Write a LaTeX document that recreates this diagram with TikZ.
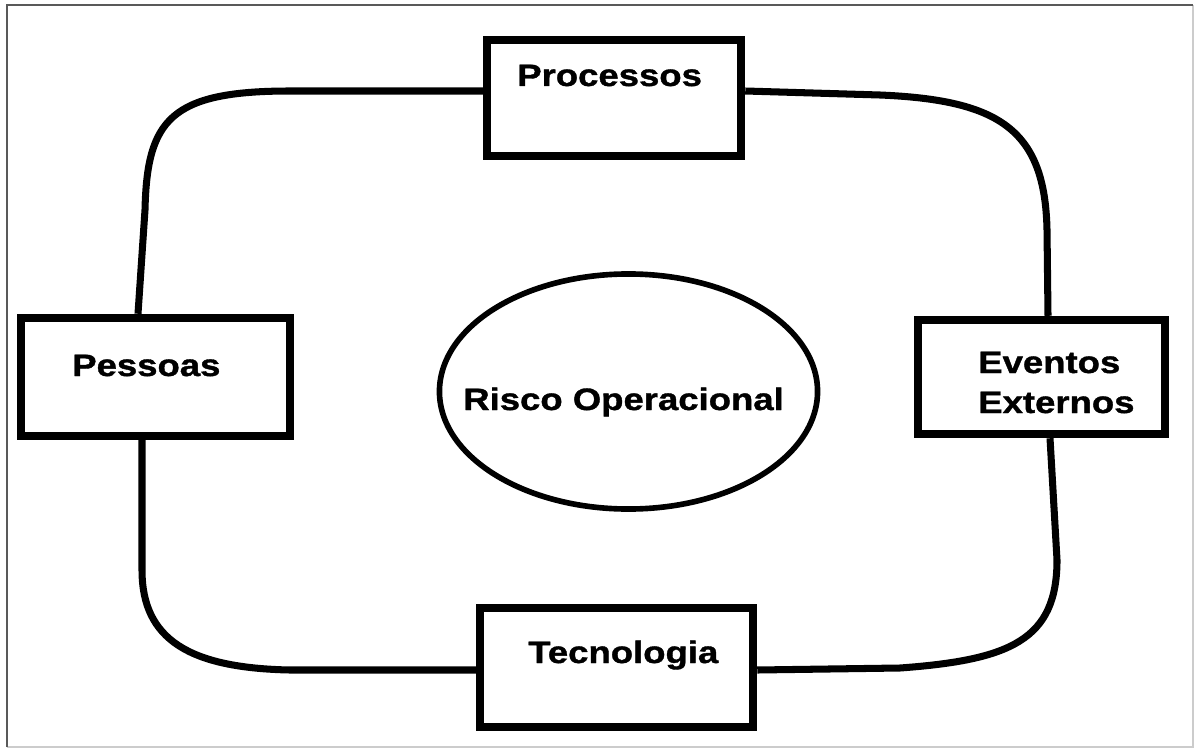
\documentclass[tikz,border=0pt]{standalone}
\usepackage{fontspec}
\setmainfont{Liberation Sans}[FakeStretch=1.18, BoldFeatures={FakeBold=1.2}]
\usepackage{tikz}
\usetikzlibrary{positioning,shapes.geometric,calc}
\tikzset{
  % caixas dos fatores de risco
  box/.style={
    draw=black,
    line width=6pt,
    inner sep=0pt
  },
  % textos
  lbl/.style={
    font=\fontsize{22}{26}\selectfont\bfseries,
    anchor=base west,
    inner sep=0pt
  },
  % elipse central
  oval/.style={
    draw=black,
    ellipse,
    line width=4pt,
    inner sep=0pt,
    minimum width=9.45cm,
    minimum height=5.875cm
  },
  % ligacoes
  link/.style={line width=5pt, black},
}

\begin{document}
\begin{tikzpicture}[x=0.025cm, y=-0.025cm]
    \useasboundingbox (0,0) rectangle (1194,748);

    % moldura
    \draw[line width=1.2pt, black!20] (1193,5) -- (1193,747) -- (7,747);
    \draw[line width=1.5pt, black!65] (7,747) -- (7,5) -- (1193,5);

    % fatores
    \node[box, minimum width=6.35cm, minimum height=2.9cm] (proc) at (614,98) {};
    \node[box, minimum width=6.725cm, minimum height=2.95cm] (pess) at (155.5,377) {};
    \node[box, minimum width=6.175cm, minimum height=2.85cm] (evt) at (1041.5,377) {};
    \node[box, minimum width=6.825cm, minimum height=2.975cm] (tec) at (616.5,667.5) {};
    \node[oval] (risco) at (628.5,391.5) {};

    \node[lbl] (procT) at (517,86) {Processos};
    \node[lbl] (pessT) at (72,376) {Pessoas};
    \node[lbl] (evtT1) at (978,373) {Eventos};
    \node[lbl] (evtT2) at (978,413) {Externos};
    \node[lbl] (tecT) at (528,663) {Tecnologia};
    \node[lbl] (riscoT) at (463,410) {Risco Operacional};

    % ligacoes entre as caixas
    \draw[link] ([yshift=0.175cm]proc.west) -- (290,91)
        .. controls (170,91) and (147,120) .. (145,210)
        -- ([xshift=-0.4375cm]pess.north);
    \draw[link] ([yshift=0.175cm]proc.east) -- (880,95)
        .. controls (1000,100) and (1045,130) .. (1047,230)
        -- ([xshift=0.1625cm]evt.north);
    \draw[link] ([xshift=-0.3375cm]pess.south) -- (142,570)
        .. controls (142,640) and (190,668) .. (290,670)
        -- ([yshift=-0.0625cm]tec.west);
    \draw[link] ([xshift=0.2125cm]evt.south) -- (1057,560)
        .. controls (1057,640) and (1010,660) .. (900,668)
        -- ([yshift=-0.0625cm]tec.east);
\end{tikzpicture}
\end{document}
